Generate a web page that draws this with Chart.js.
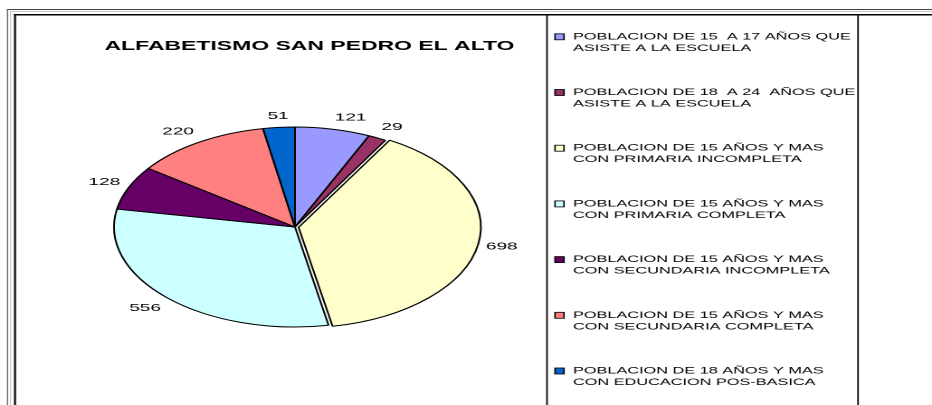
<!DOCTYPE html>
<html>
<head>
<meta charset="utf-8">
<script src="https://cdn.jsdelivr.net/npm/chart.js@4"></script>
<style>
  html, body { margin: 0; padding: 0; background: #fff; }
  #chart { display: block; width: 932px; height: 405px; }
</style>
</head>
<body>
<canvas id="chart" width="515" height="405" style="width:932px;height:405px"></canvas>
<script>
const chartTitle = 'ALFABETISMO SAN PEDRO EL ALTO'
const categories = [
    ['POBLACION DE 15  A 17 AÑOS QUE', 'ASISTE A LA ESCUELA'],
    ['POBLACION DE 18  A 24  AÑOS QUE', 'ASISTE A LA ESCUELA'],
    ['POBLACION DE 15 AÑOS Y MAS', 'CON PRIMARIA INCOMPLETA'],
    ['POBLACION DE 15 AÑOS Y MAS', 'CON PRIMARIA COMPLETA'],
    ['POBLACION DE 15 AÑOS Y MAS', 'CON SECUNDARIA INCOMPLETA'],
    ['POBLACION DE 15 AÑOS Y MAS', 'CON SECUNDARIA COMPLETA'],
    ['POBLACION DE 18 AÑOS Y MAS', 'CON EDUCACION POS-BASICA']
]
const values = [121, 29, 698, 556, 128, 220, 51]
const colors = ['#9999FF', '#993366', '#FFFFCC', '#CCFFFF', '#660066', '#FF8080', '#0066CC']
const explode = [0, 0, 8, 0, 0, 0, 0]

// the picture is stretched sideways, so the canvas is drawn narrow and widened by css
const S = 932 / 515
const px = (x) => x / S
const fontFamily = "'Liberation Sans', Arial, sans-serif"

const framePlugin = {
    id: 'frame',
    beforeDraw(chart) {
        const { ctx, width, height } = chart
        ctx.save()
        ctx.fillStyle = '#fff'
        ctx.fillRect(0, 0, width, height)

        const hline = (y, x0, color, lw) => {
            ctx.strokeStyle = color
            ctx.lineWidth = lw
            ctx.beginPath()
            ctx.moveTo(x0, y)
            ctx.lineTo(width, y)
            ctx.stroke()
        }
        const vline = (x, y0, color, lw) => {
            ctx.strokeStyle = color
            ctx.lineWidth = lw
            ctx.beginPath()
            ctx.moveTo(x, y0)
            ctx.lineTo(x, height)
            ctx.stroke()
        }

        hline(9.5, px(7), '#444', 1)
        vline(px(7.5), 9, '#444', px(1))
        hline(11.5, px(10), '#c8c8c8', 1)
        vline(px(10.5), 11, '#c8c8c8', px(1))
        hline(14.75, px(14), '#000', 1.5)
        vline(px(15), 14, '#000', px(2))
        vline(px(547), 14, '#000', px(1.6))
        vline(px(858), 14, '#000', px(1.6))
        ctx.restore()
    }
}

const textPlugin = {
    id: 'texts',
    afterDatasetsDraw(chart) {
        const { ctx } = chart
        ctx.save()

        // title
        ctx.fillStyle = '#000'
        ctx.font = `bold 12.7px ${fontFamily}`
        ctx.textAlign = 'center'
        ctx.textBaseline = 'middle'
        ctx.fillText(chartTitle, px(309.5), 46.5)

        // value labels outside the slices
        const meta = chart.getDatasetMeta(0)
        const d = 5
        const halfH = 6.5
        ctx.font = `10.5px ${fontFamily}`
        ctx.textBaseline = 'middle'
        meta.data.forEach((arc, i) => {
            const { x, y, startAngle, endAngle, outerRadius } = arc.getProps(['x', 'y', 'startAngle', 'endAngle', 'outerRadius'], true)
            const mid = (startAngle + endAngle) / 2
            const s = Math.cos(mid)
            const c = -Math.sin(mid)
            const off = (arc.options.offset || 0) / 4
            const r = outerRadius + off + d
            const lx = x + s * r
            const ly = y - c * r - Math.max(-1, Math.min(1, c * 1.5)) * halfH
            ctx.textAlign = s > 0.1 ? 'left' : (s < -0.1 ? 'right' : 'center')
            ctx.fillText(String(chart.data.datasets[0].data[i]), lx, ly)
        })

        // legend
        const legendX = px(555)
        const legendTextX = px(573)
        const legendY0 = 36.8
        const legendStep = 55.7
        const lineGap = 11.5
        ctx.font = `9px ${fontFamily}`
        ctx.textAlign = 'left'
        ctx.textBaseline = 'middle'
        chart.data.labels.forEach((lines, i) => {
            const y = legendY0 + i * legendStep
            ctx.fillStyle = colors[i]
            ctx.fillRect(legendX, y - 3, px(9), 6)
            ctx.strokeStyle = '#000'
            ctx.lineWidth = 0.8
            ctx.strokeRect(legendX, y - 3, px(9), 6)
            ctx.fillStyle = '#000'
            lines.forEach((line, j) => {
                ctx.fillText(line, legendTextX, y + j * lineGap)
            })
        })

        ctx.restore()
    }
}

const config = {
    type: 'pie',
    data: {
        labels: categories,
        datasets: [
            {
                data: values,
                backgroundColor: colors,
                borderColor: '#000',
                borderWidth: 1,
                offset: explode
            }
        ]
    },
    options: {
        responsive: false,
        devicePixelRatio: 2,
        animation: false,
        events: [],
        radius: 100,
        layout: {
            padding: { left: 63, right: 252, top: 127, bottom: 78 }
        },
        plugins: {
            legend: { display: false },
            title: { display: false },
            tooltip: { enabled: false }
        }
    },
    plugins: [framePlugin, textPlugin]
}

new Chart(document.getElementById('chart'), config)
</script>
</body>
</html>
